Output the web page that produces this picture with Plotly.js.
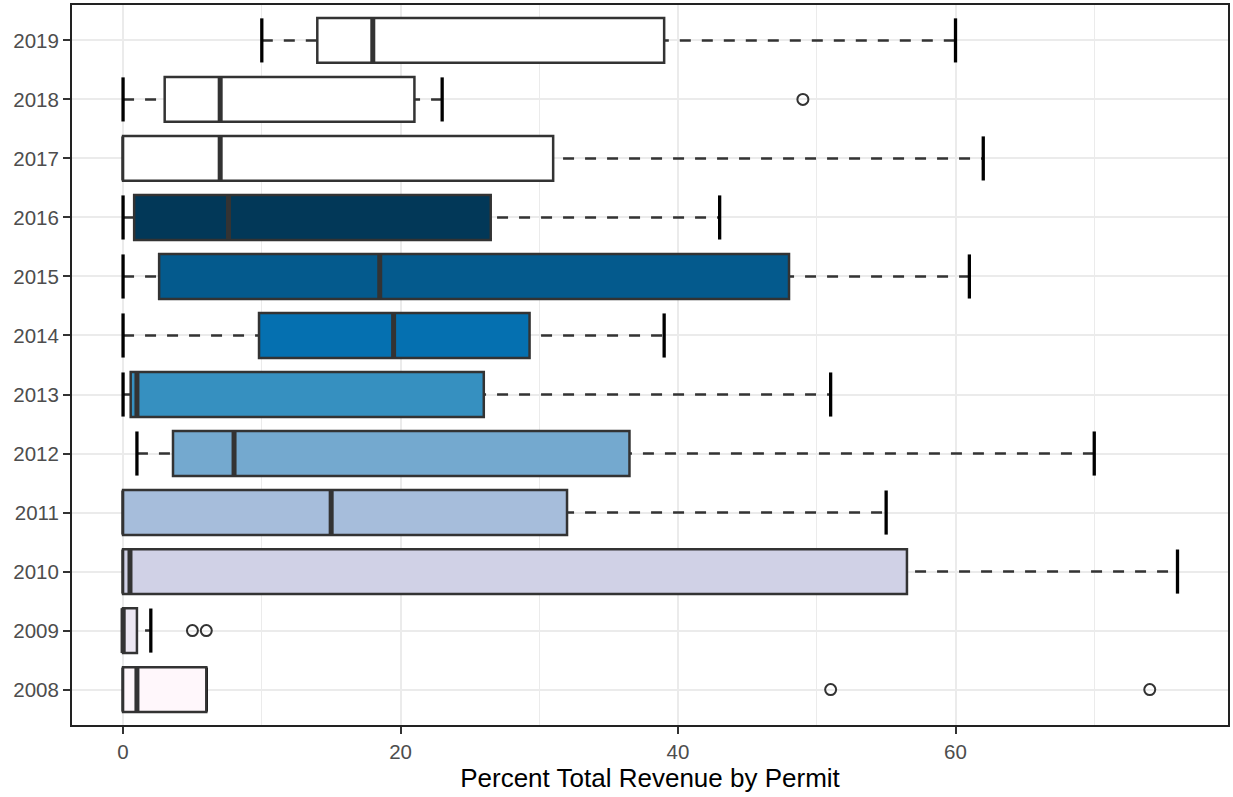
<!DOCTYPE html>
<html>
<head>
<meta charset="utf-8">
<script src="https://cdn.plot.ly/plotly-3.0.1.min.js"></script>
<style>html,body{margin:0;padding:0;background:#fff;}#chart{width:1233px;height:797px;}</style>
</head>
<body>
<div id="chart"></div>
<script>
// Data
const years      = ["2008","2009","2010","2011","2012","2013","2014","2015","2016","2017","2018","2019"];
const lowWhisker = [0,   0,   0,    0,  1.0, 0,    0,    0,    0,    0,  0,    10];
const q1         = [0,   0,   0,    0,  3.6, 0.55, 9.8,  2.6,  0.8,  0,  3.0,  14];
const median     = [1.0, 0,   0.5,  15, 8.0, 1.0,  19.5, 18.5, 7.6,  7.0,7.0, 18];
const q3         = [6.0, 1.0, 56.5, 32, 36.5,26.0, 29.3, 48.0, 26.5, 31, 21.0, 39];
const highWhisker= [6.0, 2.0, 76,   55, 70,  51,   39,   61,   43,   62, 23,   60];
const fillColors = ["#fff7fb","#ece7f2","#d0d1e6","#a6bddb","#74a9cf","#3690c0","#0570b0","#045a8d","#023858","#ffffff","#ffffff","#ffffff"];
const outlierYears  = ["2008","2008","2009","2009","2018"];
const outlierValues = [51, 74, 5, 6, 49];

const traces = [];
// Dashed error bars (drawn under the boxes, on the base subplot)
const wx = [], wy = [];
years.forEach((yr, i) => {
  wx.push(lowWhisker[i], highWhisker[i], null);
  wy.push(yr, yr, null);
});
traces.push({type: "scatter", mode: "lines", x: wx, y: wy, xaxis: "x", yaxis: "y",
  line: {color: "#333333", width: 2.5, dash: "11px,11px"},
  hoverinfo: "skip", showlegend: false, connectgaps: false});
// Whisker caps
traces.push({type: "scatter", mode: "markers", xaxis: "x", yaxis: "y",
  x: lowWhisker.concat(highWhisker), y: years.concat(years),
  marker: {symbol: "line-ns", size: 31.5, line: {color: "#000000", width: 3.3}},
  hoverinfo: "skip", showlegend: false});
// Boxes on the overlay subplot
years.forEach((yr, i) => {
  traces.push({
    type: "box", orientation: "h", xaxis: "x2", yaxis: "y2",
    y: [yr], q1: [q1[i]], median: [median[i]], q3: [q3[i]],
    lowerfence: [q1[i]], upperfence: [q3[i]],
    width: 0.76, boxpoints: false, whiskerwidth: 0,
    fillcolor: fillColors[i],
    line: {color: "#333333", width: 2.5},
    hoverinfo: "skip", showlegend: false
  });
});
// Medians
traces.push({type: "scatter", mode: "markers", x: median, y: years, xaxis: "x2", yaxis: "y2",
  marker: {symbol: "line-ns", size: 32, line: {color: "#333333", width: 5}},
  hoverinfo: "skip", showlegend: false});
// Outliers
traces.push({type: "scatter", mode: "markers", x: outlierValues, y: outlierYears, xaxis: "x2", yaxis: "y2",
  marker: {symbol: "circle-open", size: 11, color: "#333333", line: {color: "#333333", width: 2}},
  hoverinfo: "skip", showlegend: false});

const xRange = [-3.68, 79.64];
const yRange = [-0.6, 11.6];
const layout = {
  width: 1233, height: 797,
  margin: {l: 72, r: 5, t: 5, b: 72},
  paper_bgcolor: "#ffffff", plot_bgcolor: "#ffffff",
  font: {family: "Liberation Sans, Arial, sans-serif", color: "#4d4d4d", size: 20},
  hovermode: false,
  xaxis: {
    range: xRange, tickmode: "array", tickvals: [0, 20, 40, 60],
    showgrid: true, gridcolor: "#ebebeb", gridwidth: 2,
    minor: {tickmode: "array", tickvals: [10, 30, 50, 70], showgrid: true, gridcolor: "#ebebeb", gridwidth: 1, ticks: ""},
    zeroline: false,
    showline: true, mirror: true, linecolor: "#222222", linewidth: 2,
    ticks: "outside", ticklen: 7, tickwidth: 2, tickcolor: "#333333",
    tickfont: {size: 20.5, color: "#4d4d4d"},
    title: {text: "Percent Total Revenue by Permit", font: {size: 26, color: "#000000"}, standoff: 6}
  },
  yaxis: {
    type: "category", categoryorder: "array", categoryarray: years,
    range: yRange,
    showgrid: true, gridcolor: "#ebebeb", gridwidth: 2,
    zeroline: false,
    showline: true, mirror: true, linecolor: "#222222", linewidth: 2,
    ticks: "outside", ticklen: 7, tickwidth: 2, tickcolor: "#333333",
    tickfont: {size: 20.5, color: "#4d4d4d"}
  },
  xaxis2: {overlaying: "x", range: xRange, visible: false, showgrid: false, zeroline: false},
  yaxis2: {overlaying: "y", type: "category", categoryorder: "array", categoryarray: years,
    range: yRange, visible: false, showgrid: false, zeroline: false}
};
Plotly.newPlot("chart", traces, layout, {displayModeBar: false, staticPlot: true});
</script>
</body>
</html>
